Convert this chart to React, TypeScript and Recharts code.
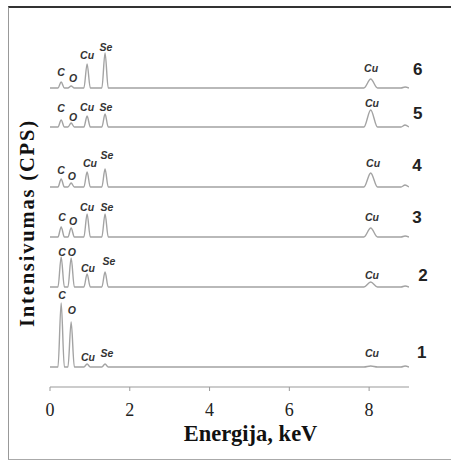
import { LineChart, Line, XAxis, YAxis, ReferenceDot, Label } from 'recharts'

// peak energies (keV): C, O, Cu L, Se L, Cu K, tail bump
const peakEnergies = [0.28, 0.53, 0.93, 1.38, 8.04, 8.9]
const peakWidths = [0.08, 0.08, 0.08, 0.08, 0.17, 0.1]

// peak heights above baseline for each spectrum (1..6)
const heights1 = [64, 45, 3, 3, 1, 1]
const heights2 = [30, 29, 13, 15, 5, 1]
const heights3 = [10, 9, 23, 23, 9, 1]
const heights4 = [8, 4, 15, 18, 14, 2]
const heights5 = [7, 4, 11, 13, 17, 2]
const heights6 = [6, 2, 24, 35, 9, 1]

// vertical stacking offsets of the spectra
const offsets = [20, 100, 150, 200, 260, 299]
const spectrumNames = ['1', '2', '3', '4', '5', '6']

const xTicks = [0, 2, 4, 6, 8]

// peak annotations: [spectrum index, text, energy, intensity]
const peakLabels: [number, string, number, number][] = [
  [5, 'C', 0.28, 315], [5, 'O', 0.58, 309], [5, 'Cu', 0.93, 332], [5, 'Se', 1.4, 340], [5, 'Cu', 8.05, 319],
  [4, 'C', 0.28, 279], [4, 'O', 0.58, 270], [4, 'Cu', 0.93, 280], [4, 'Se', 1.4, 280], [4, 'Cu', 8.07, 284],
  [3, 'C', 0.28, 217], [3, 'O', 0.55, 211], [3, 'Cu', 1.0, 224], [3, 'Se', 1.43, 232], [3, 'Cu', 8.1, 224],
  [2, 'C', 0.3, 170], [2, 'O', 0.58, 166], [2, 'Cu', 0.93, 180], [2, 'Se', 1.43, 180], [2, 'Cu', 8.07, 170],
  [1, 'C', 0.3, 135], [1, 'O', 0.55, 135], [1, 'Cu', 0.95, 119], [1, 'Se', 1.48, 126], [1, 'Cu', 8.07, 112],
  [0, 'C', 0.3, 92], [0, 'O', 0.55, 77], [0, 'Cu', 0.95, 30], [0, 'Se', 1.43, 34], [0, 'Cu', 8.07, 34],
]

// spectrum number labels: [energy, intensity]
const nameSpots: [number, number][] = [
  [9.32, 35], [9.35, 112], [9.2, 170], [9.2, 222], [9.22, 274], [9.22, 318],
]

const allHeights = [heights1, heights2, heights3, heights4, heights5, heights6]

function buildSpectrum(heights: number[], base: number) {
  const pts: { e: number; v: number }[] = [{ e: 0, v: base }]
  peakEnergies.forEach((e, i) => {
    const w = peakWidths[i]
    pts.push({ e: +(e - w).toFixed(3), v: base })
    pts.push({ e, v: base + heights[i] })
    pts.push({ e: Math.min(9, +(e + w).toFixed(3)), v: base })
  })
  if (pts[pts.length - 1].e < 9) pts.push({ e: 9, v: base })
  return pts
}

const spectra = allHeights.map((h, i) => buildSpectrum(h, offsets[i]))

const serif = '"Liberation Serif", "Times New Roman", serif'
const sans = '"Liberation Sans", Arial, sans-serif'

export default function App() {
  return (
    <div style={{ position: 'absolute', left: 0, top: 0, width: 451, height: 460, background: '#fff' }}>
      <div
        style={{
          position: 'absolute',
          left: 8,
          top: 6,
          width: 460,
          height: 451,
          borderTop: '2px solid #333',
          borderLeft: '1px solid #999',
          borderBottom: '1px solid #aaa',
        }}
      />
      <div style={{ position: 'absolute', left: 0, top: 0 }}>
        <LineChart width={451} height={460} margin={{ top: 37, right: 42, left: 8, bottom: 19 }}>
          <XAxis
            type="number"
            dataKey="e"
            domain={[0, 9]}
            ticks={xTicks}
            allowDataOverflow
            stroke="#999"
            tickSize={4}
            tickMargin={12}
            height={54}
            tick={{ fontSize: 18, fill: '#222', fontFamily: serif }}
          >
            <Label
              value="Energija, keV"
              position="insideBottom"
              offset={0}
              dx={21}
              style={{ fontSize: 22.5, fontWeight: 700, fill: '#111', fontFamily: serif }}
            />
          </XAxis>
          <YAxis
            type="number"
            domain={[0, 350]}
            allowDataOverflow
            width={42}
            tick={false}
            axisLine={false}
            tickLine={false}
          />
          {spectra.map((data, i) => (
            <Line
              key={spectrumNames[i]}
              data={data}
              dataKey="v"
              type="monotone"
              stroke="#a3a3a3"
              strokeWidth={1.4}
              dot={false}
              activeDot={false}
              isAnimationActive={false}
            />
          ))}
          {/* y axis title, anchored through the scales */}
          <ReferenceDot
            x={-0.58}
            y={163}
            r={0}
            ifOverflow="visible"
            shape={(p: any) => (
              <text
                transform={`translate(${p.cx},${p.cy}) rotate(-90)`}
                textAnchor="middle"
                dominantBaseline="central"
                fontFamily={serif}
                fontSize={20.5}
                fontWeight={700}
                fill="#111"
                textLength={206}
                lengthAdjust="spacing"
              >
                Intensivumas (CPS)
              </text>
            )}
          />
          {peakLabels.map(([s, text, e, v], i) => (
            <ReferenceDot
              key={'p' + i + s}
              x={e}
              y={v}
              r={0}
              ifOverflow="visible"
              shape={(p: any) => (
                <text
                  x={p.cx}
                  y={p.cy}
                  textAnchor="middle"
                  dominantBaseline="central"
                  fontFamily={sans}
                  fontSize={10.5}
                  fontStyle="italic"
                  fontWeight={700}
                  fill="#333"
                >
                  {text}
                </text>
              )}
            />
          ))}
          {nameSpots.map(([e, v], i) => (
            <ReferenceDot
              key={'n' + i}
              x={e}
              y={v}
              r={0}
              ifOverflow="visible"
              shape={(p: any) => (
                <text
                  x={p.cx}
                  y={p.cy}
                  textAnchor="middle"
                  dominantBaseline="central"
                  fontFamily={sans}
                  fontSize={17}
                  fontWeight={700}
                  fill="#222"
                >
                  {spectrumNames[i]}
                </text>
              )}
            />
          ))}
        </LineChart>
      </div>
    </div>
  )
}
